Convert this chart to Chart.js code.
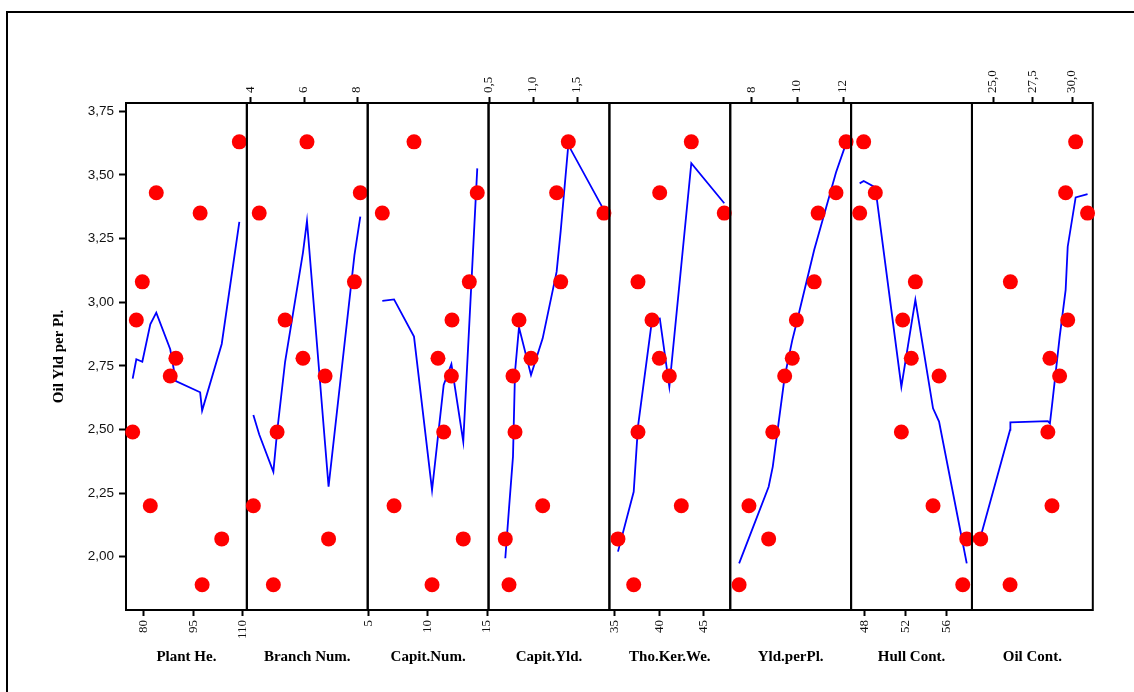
<!DOCTYPE html>
<html>
<head>
<meta charset="utf-8">
<script src="https://cdn.jsdelivr.net/npm/chart.js@4.4.1/dist/chart.umd.min.js"></script>
<style>
  html, body { margin: 0; padding: 0; background: #fff; }
  #wrap { position: relative; width: 1134px; height: 692px; overflow: hidden; background: #fff; }
  #wrap canvas { position: absolute; left: 0; top: 0; }
  #frame { position: absolute; left: 6px; top: 11px; width: 1400px; height: 900px;
           border-left: 2px solid #000; border-top: 2px solid #000; }
</style>
</head>
<body>
<div id="wrap"><div id="frame"></div></div>
<script>
// Oil yield per plant (response) for the 11 observations
const oilYield   = [3.63, 3.43, 3.35, 3.08, 2.93, 2.78, 2.71, 2.49, 2.20, 2.07, 1.89];

// Predictor values, same observation order
const plantHe    = [108.9, 83.9, 97.1, 79.7, 77.9, 89.8, 88.1, 76.8, 82.1, 103.6, 97.7];
const branchNum  = [6.11, 8.11, 4.32, 7.89, 5.29, 5.96, 6.79, 4.99, 4.10, 6.92, 4.85];
const capitNum   = [8.85, 14.18, 6.18, 13.51, 12.05, 10.87, 12.00, 11.35, 7.17, 13.00, 10.37];
const capitYld   = [1.394, 1.262, 1.797, 1.308, 0.836, 0.972, 0.768, 0.791, 1.104, 0.681, 0.723];
const thoKerWe   = [43.58, 40.04, 47.27, 37.61, 39.18, 40.00, 41.12, 37.61, 42.46, 35.37, 37.13];
const yldPerPl   = [12.12, 11.68, 10.90, 10.73, 9.95, 9.77, 9.44, 8.92, 7.88, 8.74, 7.45];
const hullCont   = [47.87, 49.01, 47.48, 52.93, 51.69, 52.53, 55.25, 51.56, 54.66, 57.96, 57.57];
const oilCont    = [30.19, 29.56, 30.94, 26.08, 29.69, 28.57, 29.18, 28.44, 28.70, 24.21, 26.06];

// Smoothed fit of oil yield at each observation, same order
const plantHeFit   = [3.316, 2.959, 2.646, 2.766, 2.776, 2.690, 2.815, 2.700, 2.913, 2.836, 2.574];
const branchNumFit = [3.319, 3.336, 2.480, 3.185, 2.766, 3.195, 2.442, 2.490, 2.557, 2.275, 2.334];
const capitNumFit  = [2.865, 3.526, 3.005, 2.916, 2.757, 2.473, 2.757, 2.675, 3.011, 2.452, 2.262];
const capitYldFit  = [3.618, 3.120, 3.362, 3.280, 2.901, 2.714, 2.393, 2.727, 2.858, 1.994, 2.190];
const thoKerWeFit  = [3.546, 2.939, 3.389, 2.511, 2.930, 2.935, 2.668, 2.511, 3.146, 2.020, 2.255];
const yldPerPlFit  = [3.624, 3.510, 3.260, 3.206, 2.915, 2.850, 2.707, 2.354, 2.074, 2.275, 1.974];
const hullContFit  = [3.476, 3.451, 3.467, 3.009, 2.700, 2.910, 2.531, 2.668, 2.583, 1.974, 2.054];
const oilContFit   = [3.412, 3.048, 3.425, 2.528, 3.218, 2.524, 2.862, 2.533, 2.594, 2.079, 2.498];

// Tick labels
const yTicks         = [2.00, 2.25, 2.50, 2.75, 3.00, 3.25, 3.50, 3.75];
const plantHeTicks   = [80, 95, 110];
const branchNumTicks = [4, 6, 8];
const capitNumTicks  = [5, 10, 15];
const capitYldTicks  = [0.5, 1.0, 1.5];
const thoKerWeTicks  = [35, 40, 45];
const yldPerPlTicks  = [8, 10, 12];
const hullContTicks  = [48, 52, 56];
const oilContTicks   = [25.0, 27.5, 30.0];

const panelNames = ['Plant He.', 'Branch Num.', 'Capit.Num.', 'Capit.Yld.',
                    'Tho.Ker.We.', 'Yld.perPl.', 'Hull Cont.', 'Oil Cont.'];

const SERIF = '"Liberation Serif", "DejaVu Serif", serif';
const SANS  = '"Liberation Sans", Arial, sans-serif';

// Panel definitions: values, fit, ticks, decimals and axis range
const panels = [
  { x: plantHe,   fit: plantHeFit,   ticks: plantHeTicks,   dec: 0, side: 'bottom', min: 74.79, max: 111.16 },
  { x: branchNum, fit: branchNumFit, ticks: branchNumTicks, dec: 0, side: 'top',    min: 3.856, max: 8.387 },
  { x: capitNum,  fit: capitNumFit,  ticks: capitNumTicks,  dec: 0, side: 'bottom', min: 4.95,  max: 15.13 },
  { x: capitYld,  fit: capitYldFit,  ticks: capitYldTicks,  dec: 1, side: 'top',    min: 0.4915, max: 1.859 },
  { x: thoKerWe,  fit: thoKerWeFit,  ticks: thoKerWeTicks,  dec: 0, side: 'bottom', min: 34.41, max: 47.94 },
  { x: yldPerPl,  fit: yldPerPlFit,  ticks: yldPerPlTicks,  dec: 0, side: 'top',    min: 7.063, max: 12.34 },
  { x: hullCont,  fit: hullContFit,  ticks: hullContTicks,  dec: 0, side: 'bottom', min: 46.64, max: 58.47 },
  { x: oilCont,   fit: oilContFit,   ticks: oilContTicks,   dec: 1, side: 'top',    min: 23.66, max: 31.27 }
];

const Y_MIN = 1.7906, Y_MAX = 3.7827;
const W = 1134, H = 692;
const edges = [126, 246.85, 367.7, 488.55, 609.4, 730.25, 851.1, 971.95, 1092.8];
const PLOT_TOP = 103, PLOT_BOTTOM = 610;
const TOP_AXIS_H = 50, BOTTOM_AXIS_H = H - PLOT_BOTTOM;
const Y_AXIS_LEFT = 40;

const fmt = (v, dec) => Number(v).toFixed(dec).replace('.', ',');

// Black frame around each panel's plotting area
const panelFrame = {
  id: 'panelFrame',
  beforeDatasetsDraw(chart) {
    const { ctx, chartArea: a } = chart;
    ctx.save();
    ctx.strokeStyle = '#000';
    ctx.lineWidth = 2;
    ctx.strokeRect(a.left, a.top, a.right - a.left, a.bottom - a.top);
    ctx.restore();
  }
};

const titleOpt = (text) => ({
  display: true, text, color: '#000',
  font: { family: SERIF, size: 15, weight: 'bold', lineHeight: 1.2 },
  padding: { top: 0, bottom: 26 }
});

const wrap = document.getElementById('wrap');

panels.forEach((p, i) => {
  const canvas = document.createElement('canvas');
  canvas.width = W; canvas.height = H;
  canvas.style.width = W + 'px'; canvas.style.height = H + 'px';
  wrap.appendChild(canvas);

  const onTop = p.side === 'top';
  const showY = i === 0;
  const dots = p.x.map((v, k) => ({ x: v, y: oilYield[k] }));
  const curve = p.x.map((v, k) => ({ x: v, y: p.fit[k] })).sort((a, b) => a.x - b.x);

  const scales = {
    x: {
      type: 'linear', position: p.side, min: p.min, max: p.max,
      afterBuildTicks: s => { s.ticks = p.ticks.map(v => ({ value: v })); },
      afterFit: s => { s.height = onTop ? TOP_AXIS_H : BOTTOM_AXIS_H; },
      ticks: {
        minRotation: 90, maxRotation: 90, autoSkip: false, padding: 4,
        labelOffset: onTop ? 15 : 0,
        color: '#111', font: { family: SERIF, size: 13 },
        callback: v => fmt(v, p.dec)
      },
      grid: { drawOnChartArea: false, drawTicks: true, tickLength: 6, tickWidth: 2, tickColor: '#000' },
      border: { display: false },
      title: onTop ? { display: false } : titleOpt(panelNames[i])
    },
    y: {
      type: 'linear', position: 'left', min: Y_MIN, max: Y_MAX, display: showY,
      afterBuildTicks: s => { s.ticks = yTicks.map(v => ({ value: v })); },
      afterFit: s => { s.width = showY ? edges[0] - Y_AXIS_LEFT : 0; },
      ticks: { padding: 5, color: '#111', font: { family: SANS, size: 13.5 }, callback: v => fmt(v, 2) },
      grid: { drawOnChartArea: false, tickLength: 7, tickWidth: 2, tickColor: '#000' },
      border: { display: false },
      title: {
        display: showY, text: 'Oil Yld per Pl.', color: '#000',
        font: { family: SERIF, size: 15, weight: 'bold', lineHeight: 1.2 },
        padding: { top: 10, bottom: 0 }
      }
    }
  };
  if (onTop) {
    scales.xb = {
      type: 'linear', axis: 'x', position: 'bottom', min: p.min, max: p.max,
      afterFit: s => { s.height = BOTTOM_AXIS_H; },
      ticks: { display: false },
      grid: { display: false },
      border: { display: false },
      title: titleOpt(panelNames[i])
    };
  }

  new Chart(canvas, {
    type: 'scatter',
    data: {
      datasets: [
        { type: 'scatter', data: dots, backgroundColor: '#ff0000', borderWidth: 0,
          pointRadius: 7.5, pointHoverRadius: 7.5, clip: false, order: 1 },
        { type: 'line', data: curve, borderColor: '#0000ff', borderWidth: 1.8,
          pointRadius: 0, fill: false, tension: 0, clip: false, order: 2 }
      ]
    },
    options: {
      responsive: false, animation: false, devicePixelRatio: 1, events: [],
      layout: {
        autoPadding: false,
        padding: {
          left: showY ? Y_AXIS_LEFT : edges[i],
          right: W - edges[i + 1],
          top: onTop ? PLOT_TOP - TOP_AXIS_H : PLOT_TOP,
          bottom: 0
        }
      },
      plugins: { legend: { display: false }, tooltip: { enabled: false } },
      scales
    },
    plugins: [panelFrame]
  });
});
</script>
</body>
</html>
